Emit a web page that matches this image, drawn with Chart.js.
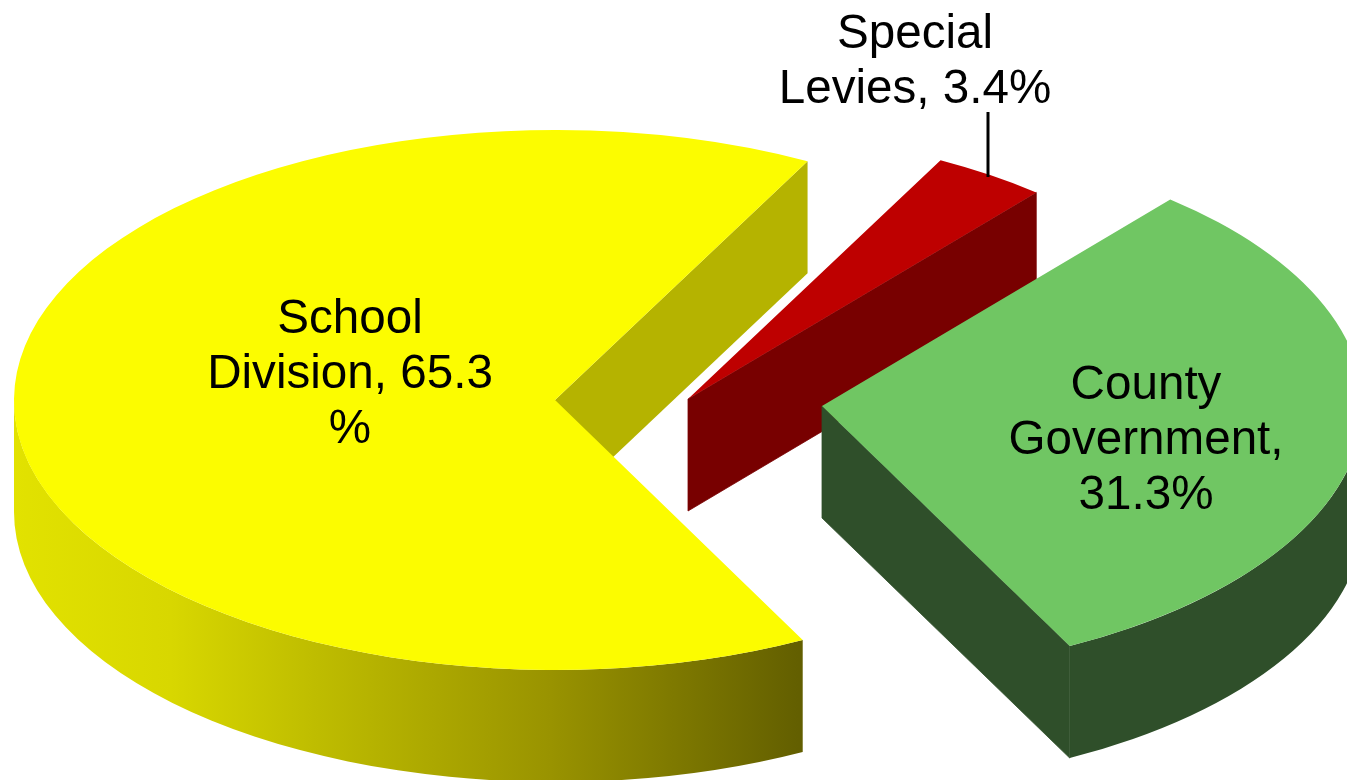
<!DOCTYPE html>
<html>
<head>
<meta charset="utf-8">
<style>
html,body{margin:0;padding:0;background:#fff;overflow:hidden}
#wrap{width:1347px;height:780px}
canvas{display:block}
</style>
<script src="https://cdn.jsdelivr.net/npm/chart.js@4/dist/chart.umd.js"></script>
</head>
<body>
<div id="wrap"><canvas id="c" width="1347" height="780"></canvas></div>
<script>
const categories = ["School Division", "Special Levies", "County Government"];
const shares = [65.3, 3.4, 31.3];
const labelLines = [["School", "Division, 65.3", "%"], ["Special", "Levies, 3.4%"], ["County", "Government,", "31.3%"]];
const topColors = ["#FCFC00", "#BE0000", "#70C663"];
const wallColors = ["#B5B300", "#780000", "#2F4F2A"];

// presentation only
const centers = [[555, 400], [688, 399], [822, 406]];
const radiusX = 541, radiusY = 270, depth = 112;
const labelPos = [[350, 333], [915, 48], [1146, 399]];
const lineHeight = 55;
const leader = [988, 112, 988, 177];

const pie3d = {
  id: "pie3d",
  beforeDatasetsDraw(chart) {
    const ctx = chart.ctx;
    const arcs = chart.getDatasetMeta(0).data;
    arcs.forEach((arc, i) => {
      const [cx, cy] = centers[i];
      const a0 = arc.startAngle, a1 = arc.endAngle;
      // outer rim: only the part of the arc that faces the viewer (0..PI on canvas)
      [0, 2 * Math.PI].forEach(turn => {
        const r0 = Math.max(a0 - turn, 0), r1 = Math.min(a1 - turn, Math.PI);
        if (r1 <= r0) return;
        let rim = wallColors[i];
        if (i === 0) {
          rim = ctx.createLinearGradient(13, 0, 803, 0);
          rim.addColorStop(0, "#E2E200");
          rim.addColorStop(0.2, "#D8D700");
          rim.addColorStop(0.38, "#BFBD00");
          rim.addColorStop(0.68, "#999300");
          rim.addColorStop(1, "#625E00");
        }
        ctx.fillStyle = rim;
        ctx.beginPath();
        ctx.ellipse(cx, cy, radiusX, radiusY, 0, r0, r1);
        ctx.ellipse(cx, cy + depth, radiusX, radiusY, 0, r1, r0, true);
        ctx.closePath();
        ctx.fill();
      });
      // cut face on the closing edge of the slice
      const ex = cx + radiusX * Math.cos(a1), ey = cy + radiusY * Math.sin(a1);
      ctx.fillStyle = wallColors[i];
      ctx.strokeStyle = wallColors[i];
      ctx.lineWidth = 0.8;
      ctx.beginPath();
      ctx.moveTo(cx, cy);
      ctx.lineTo(ex, ey);
      ctx.lineTo(ex, ey + depth);
      ctx.lineTo(cx, cy + depth);
      ctx.closePath();
      ctx.fill();
      if (i > 0) ctx.stroke();
      // top face: the library's own arc element, seen in tilt
      ctx.save();
      ctx.translate(cx, cy);
      ctx.scale(radiusX / arc.outerRadius, radiusY / arc.outerRadius);
      ctx.translate(-arc.x, -arc.y);
      arc.draw(ctx);
      ctx.restore();
    });
    return false;
  },
  afterDraw(chart) {
    const ctx = chart.ctx;
    ctx.save();
    ctx.strokeStyle = "#000";
    ctx.lineWidth = 3;
    ctx.beginPath();
    ctx.moveTo(leader[0], leader[1]);
    ctx.lineTo(leader[2], leader[3]);
    ctx.stroke();
    ctx.fillStyle = "#000";
    ctx.font = '47.6px "Liberation Sans", Arial, sans-serif';
    ctx.textAlign = "center";
    ctx.textBaseline = "alphabetic";
    labelLines.forEach((lines, i) => {
      lines.forEach((t, j) => ctx.fillText(t, labelPos[i][0], labelPos[i][1] + j * lineHeight));
    });
    ctx.restore();
  }
};

new Chart(document.getElementById("c"), {
  type: "pie",
  data: {
    labels: categories,
    datasets: [{ data: shares, backgroundColor: topColors, borderWidth: 0 }]
  },
  options: {
    responsive: false,
    animation: false,
    rotation: 152.75,
    layout: { padding: 0 },
    plugins: { legend: { display: false }, tooltip: { enabled: false } }
  },
  plugins: [pie3d]
});
</script>
</body>
</html>
